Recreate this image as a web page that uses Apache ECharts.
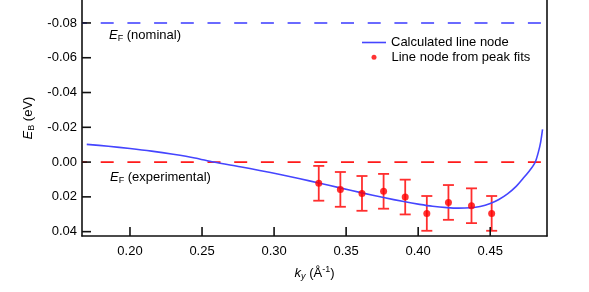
<!DOCTYPE html>
<html>
<head>
<meta charset="utf-8">
<script src="https://cdn.jsdelivr.net/npm/echarts@6/dist/echarts.min.js"></script>
<style>html,body{margin:0;padding:0;background:#fff;}#c{width:589px;height:292px;}</style>
</head>
<body>
<div id="c"></div>
<script>
// ---- data ----
const kCurve = [0.170, 0.185, 0.200, 0.215, 0.230, 0.245, 0.258, 0.2764, 0.290, 0.305, 0.318, 0.331, 0.345, 0.361, 0.376, 0.390, 0.401, 0.410, 0.420, 0.428, 0.436, 0.443, 0.450, 0.456, 0.462, 0.468, 0.473, 0.477, 0.4795, 0.4815, 0.4835, 0.4850, 0.4863];
const eCurve = [-0.0102, -0.0091, -0.0078, -0.0063, -0.0045, -0.0024, 0.0000, 0.0027, 0.0048, 0.0073, 0.0096, 0.0120, 0.0147, 0.0177, 0.0204, 0.0227, 0.0243, 0.0254, 0.0262, 0.0265, 0.0263, 0.0255, 0.0238, 0.0215, 0.0183, 0.0140, 0.0092, 0.0052, 0.0025, -0.0005, -0.0060, -0.0115, -0.0188];
const kPoints = [0.331, 0.346, 0.361, 0.376, 0.391, 0.406, 0.421, 0.437, 0.451];
const ePoints = [0.0122, 0.0157, 0.0180, 0.0168, 0.0201, 0.0295, 0.0232, 0.0251, 0.0295];
const eError = [0.0100, 0.0100, 0.0100, 0.0100, 0.0100, 0.0100, 0.0100, 0.0100, 0.0100];
const efNominal = -0.08;
const efExperimental = 0.00;
const xTicks = [0.20, 0.25, 0.30, 0.35, 0.40, 0.45];
const yTicks = [-0.08, -0.06, -0.04, -0.02, 0.00, 0.02, 0.04];
const xRange = [0.1667, 0.4894];
const yRange = [-0.0932, 0.0425];

const FONT = 'Liberation Sans, Arial, sans-serif';
const chart = echarts.init(document.getElementById('c'), null, {renderer: 'canvas'});

const richBase = {
  n: {fontFamily: FONT, fontSize: 13, color: '#000', lineHeight: 16},
  i: {fontFamily: FONT, fontSize: 13, color: '#000', fontStyle: 'italic', lineHeight: 16},
  sub: {fontFamily: FONT, fontSize: 9, color: '#000', lineHeight: 10, verticalAlign: 'bottom'},
  subi: {fontFamily: FONT, fontSize: 9, color: '#000', fontStyle: 'italic', lineHeight: 10, verticalAlign: 'bottom'},
  sup: {fontFamily: FONT, fontSize: 9, color: '#000', lineHeight: 10, verticalAlign: 'top'}
};

const AXIS_COLOR = '#111';
const AXIS_W = 1.6;
const TICK_LEN = 9;
const GRID = {left: 82, right: 42, top: 0, bottom: 56};

const option = {
  animation: false,
  backgroundColor: '#fff',
  grid: GRID,
  legend: [
    {
      data: [{name: 'Calculated line node', icon: 'rect', itemStyle: {color: '#4545ff'}}],
      left: 362, top: 35.5, padding: 0,
      itemWidth: 24, itemHeight: 1.6,
      textStyle: {fontFamily: FONT, fontSize: 13, color: '#000', lineHeight: 14},
      selectedMode: false
    },
    {
      data: [{name: 'Line node from peak fits', icon: 'circle'}],
      left: 371.5, top: 50.3, padding: 0,
      itemWidth: 5, itemHeight: 5,
      textStyle: {fontFamily: FONT, fontSize: 13, color: '#000', lineHeight: 14, padding: [0, 0, 0, 10]},
      selectedMode: false
    }
  ],
  xAxis: {
    type: 'value', min: xRange[0], max: xRange[1],
    name: '{i|k}{subi|y}{n| (Å}{sup|-1}{n|)}',
    nameLocation: 'middle', nameGap: 29,
    nameTextStyle: {rich: richBase},
    axisLine: {show: true, onZero: false, lineStyle: {color: AXIS_COLOR, width: AXIS_W}},
    axisTick: {show: false},
    axisLabel: {show: true, margin: 9, fontFamily: FONT, fontSize: 13, color: '#000', customValues: xTicks,
      formatter: v => v.toFixed(2)},
    splitLine: {show: false}
  },
  yAxis: [
    {
      type: 'value', inverse: true, min: yRange[0], max: yRange[1],
      name: '{i|E}{sub|B}{n| (eV)}',
      nameLocation: 'middle', nameGap: 40,
      nameTextStyle: {rich: richBase},
      axisLine: {show: true, lineStyle: {color: AXIS_COLOR, width: AXIS_W}},
      axisTick: {show: false},
      axisLabel: {show: true, margin: 5, fontFamily: FONT, fontSize: 13, color: '#000', customValues: yTicks,
        formatter: v => v.toFixed(2)},
      splitLine: {show: false}
    },
    {
      type: 'value', inverse: true, min: yRange[0], max: yRange[1], position: 'right',
      axisLine: {show: true, lineStyle: {color: AXIS_COLOR, width: AXIS_W}},
      axisTick: {show: false}, axisLabel: {show: false}, splitLine: {show: false}
    }
  ],
  series: [
    {
      name: 'EF nominal', type: 'line', symbol: 'none', silent: true,
      data: [[xRange[0], efNominal], [xRange[1], efNominal]],
      lineStyle: {color: '#3a3aff', width: 1.4, type: [13, 13.7], dashOffset: 8}
    },
    {
      name: 'EF experimental', type: 'line', symbol: 'none', silent: true,
      data: [[xRange[0], efExperimental], [xRange[1], efExperimental]],
      lineStyle: {color: '#ff1a1a', width: 1.6, type: [13, 13.7], dashOffset: 8}
    },
    {
      name: 'Calculated line node', type: 'line', symbol: 'none', showSymbol: false,
      smooth: 0.3,
      data: kCurve.map((k, i) => [k, eCurve[i]]),
      lineStyle: {color: '#4545ff', width: 1.6},
      itemStyle: {color: '#4545ff'}
    },
    {
      name: 'errorbars', type: 'custom',
      data: kPoints.map((k, i) => [k, ePoints[i] - eError[i], ePoints[i] + eError[i]]),
      renderItem: function (params, api) {
        const top = api.coord([api.value(0), api.value(1)]);
        const bot = api.coord([api.value(0), api.value(2)]);
        const hw = 5.5;
        const st = {stroke: '#ff2e2e', lineWidth: 1.8};
        return {
          type: 'group',
          children: [
            {type: 'line', shape: {x1: top[0], y1: top[1], x2: bot[0], y2: bot[1]}, style: st},
            {type: 'line', shape: {x1: top[0] - hw, y1: top[1], x2: top[0] + hw, y2: top[1]}, style: st},
            {type: 'line', shape: {x1: bot[0] - hw, y1: bot[1], x2: bot[0] + hw, y2: bot[1]}, style: st}
          ]
        };
      },
      z: 3
    },
    {
      name: 'Line node from peak fits', type: 'scatter',
      data: kPoints.map((k, i) => [k, ePoints[i]]),
      symbol: 'circle', symbolSize: 7,
      itemStyle: {color: '#ff0000'},
      z: 4
    }
  ],
  graphic: [
    {id: 'efn', type: 'text', left: 109, top: 29, style: {text: '{i|E}{sub|F}{n| (nominal)}', rich: richBase}},
    {id: 'efe', type: 'text', left: 110, top: 171, style: {text: '{i|E}{sub|F}{n| (experimental)}', rich: richBase}}
  ]
};
chart.setOption(option);

// inward tick marks, positioned through the axis scales
const tickEls = [];
xTicks.forEach((v, i) => {
  const p = chart.convertToPixel({xAxisIndex: 0, yAxisIndex: 0}, [v, yRange[1]]);
  tickEls.push({id: 'xt' + i, type: 'line', z: 100, silent: true,
    shape: {x1: p[0], y1: p[1], x2: p[0], y2: p[1] - TICK_LEN},
    style: {stroke: AXIS_COLOR, lineWidth: AXIS_W}});
});
yTicks.forEach((v, i) => {
  const p = chart.convertToPixel({xAxisIndex: 0, yAxisIndex: 0}, [xRange[0], v]);
  tickEls.push({id: 'yt' + i, type: 'line', z: 100, silent: true,
    shape: {x1: p[0], y1: p[1], x2: p[0] + TICK_LEN, y2: p[1]},
    style: {stroke: AXIS_COLOR, lineWidth: AXIS_W}});
});
chart.setOption({graphic: tickEls});
</script>
</body>
</html>
